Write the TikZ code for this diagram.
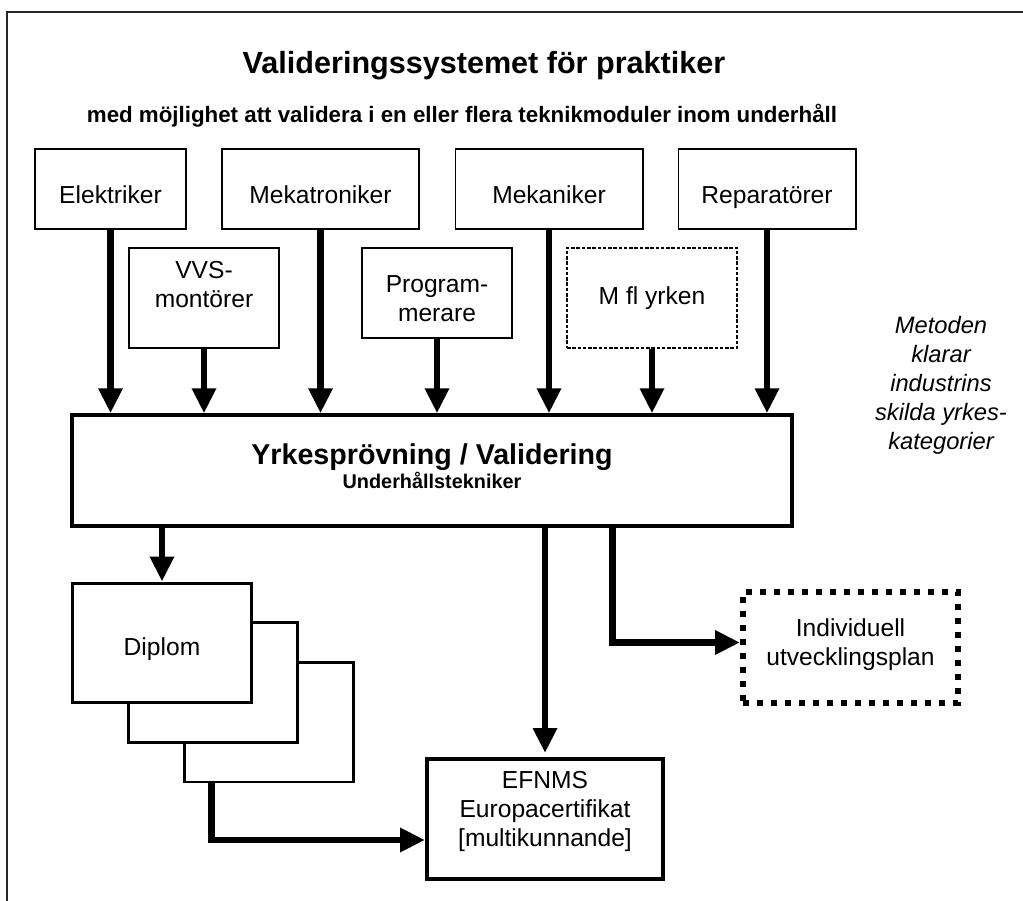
\documentclass[tikz,border=0pt]{standalone}
\usepackage{fontspec}
\setmainfont{Liberation Sans}
\usepackage{tikz}
\usetikzlibrary{arrows.meta}

\begin{document}
\begin{tikzpicture}[%
    ->,
    >={Triangle[width=0.46cm,length=0.5cm]},
    x=0.02cm, y=-0.02cm,
    flow/.style={line width=0.13cm},
    jobbox/.style={%
      rectangle,
      draw,
      line width=0.6pt,
      inner sep=0pt,
      align=center,
      minimum height=1.6cm,
      font=\fontsize{14}{16.4}\selectfont
    },
    jobtop/.style={jobbox, text height=16.5pt, text depth=0pt},
    jobmore/.style={jobbox, line width=0.8pt, dash pattern=on 2pt off 1pt},
    mainbox/.style={%
      rectangle,
      draw,
      line width=2pt,
      inner sep=0pt,
      align=center,
      minimum width=14.4cm,
      minimum height=2.22cm,
      font=\bfseries
    },
    diplom/.style={%
      rectangle,
      draw,
      fill=white,
      line width=1.7pt,
      inner sep=0pt,
      minimum height=2.4cm,
      font=\fontsize{14}{16.4}\selectfont
    },
    certbox/.style={diplom, line width=2.3pt, align=center, minimum width=4.72cm},
    planbox/.style={%
      rectangle,
      draw,
      line width=0.12cm,
      dash pattern=on 0.12cm off 0.16cm,
      inner sep=0pt,
      align=center,
      minimum width=4.3cm,
      minimum height=2.22cm,
      font=\fontsize{14}{16.4}\selectfont
    },
    note/.style={align=center, font=\fontsize{13.5}{16.5}\selectfont\itshape}
  ]
    \useasboundingbox (0,0) rectangle (1023,901);
    \draw[-, line width=0.9pt, black!85] (7,901) -- (7,12) -- (1023,12);

    \node[anchor=base, font=\fontsize{17.4}{20}\selectfont\bfseries] (title) at (484,74) {Valideringssystemet för praktiker};
    \node[anchor=base, font=\fontsize{12.7}{15}\selectfont\bfseries] (subtitle) at (462,123) {med möjlighet att validera i en eller flera teknikmoduler inom underhåll};

    \node[jobtop, minimum width=3.02cm] (elek)  at (110.5,189) {Elektriker};
    \node[jobtop, minimum width=3.94cm] (mekat) at (320.5,189) {Mekatroniker};
    \node[jobtop, minimum width=3.76cm] (mekan) at (549,189)   {Mekaniker};
    \node[jobtop, minimum width=3.56cm] (repar) at (767,189)   {Reparatörer};
    \node[jobbox, minimum width=3cm, minimum height=2cm, text height=26.4pt, text depth=16pt]    (vvs)  at (204,298) {VVS-\\montörer};
    \node[jobbox, minimum width=3cm, minimum height=1.8cm, text height=32.2pt, text depth=0pt]  (prog) at (437,293) {Program-\\merare};
    \node[jobmore, minimum width=3.4cm, minimum height=2cm] (mfl)  at (652,298) {M fl yrken};

    \node[note] (metod) at (941,385) {Metoden\\klarar\\industrins\\skilda yrkes-\\kategorier};

    \node[mainbox, text depth=5pt] (main) at (432,470.5) {{\fontsize{16.3}{19}\selectfont Yrkesprövning / Validering}\\{\fontsize{11.3}{13}\selectfont Underhållstekniker}};

    \node[diplom, minimum width=3.4cm] (d3) at (269,722)   {};
    \node[diplom, minimum width=3.4cm] (d2) at (213,682.5) {};
    \node[diplom, minimum width=3.6cm, text height=17pt] (d1) at (162,643) {Diplom};

    \node[certbox, text depth=11.5pt] (cert) at (545,819) {EFNMS\\Europacertifikat\\{[multikunnande]}};
    \node[planbox, text depth=6.3pt] (plan) at (850.5,647.5) {Individuell\\utvecklingsplan};

    \path (elek.south)  edge[flow] (elek.south |- main.north)
          (vvs.south)   edge[flow] (vvs.south |- main.north)
          (mekat.south) edge[flow] (mekat.south |- main.north)
          (prog.south)  edge[flow] (prog.south |- main.north)
          (mekan.south) edge[flow] (mekan.south |- main.north)
          (mfl.south)   edge[flow] (mfl.south |- main.north)
          (repar.south) edge[flow] (repar.south |- main.north)
          (main.south -| d1.north)   edge[flow] (d1.north)
          (main.south -| cert.north) edge[flow, shorten >=0.08cm] (cert.north);

    \draw[flow] ([xshift=0.58cm]d3.south west) |- ([yshift=-0.42cm]cert.west);
    \draw[flow] ([xshift=-3.62cm]main.south east) |- ([yshift=0.1cm]plan.west);
  \end{tikzpicture}
\end{document}
